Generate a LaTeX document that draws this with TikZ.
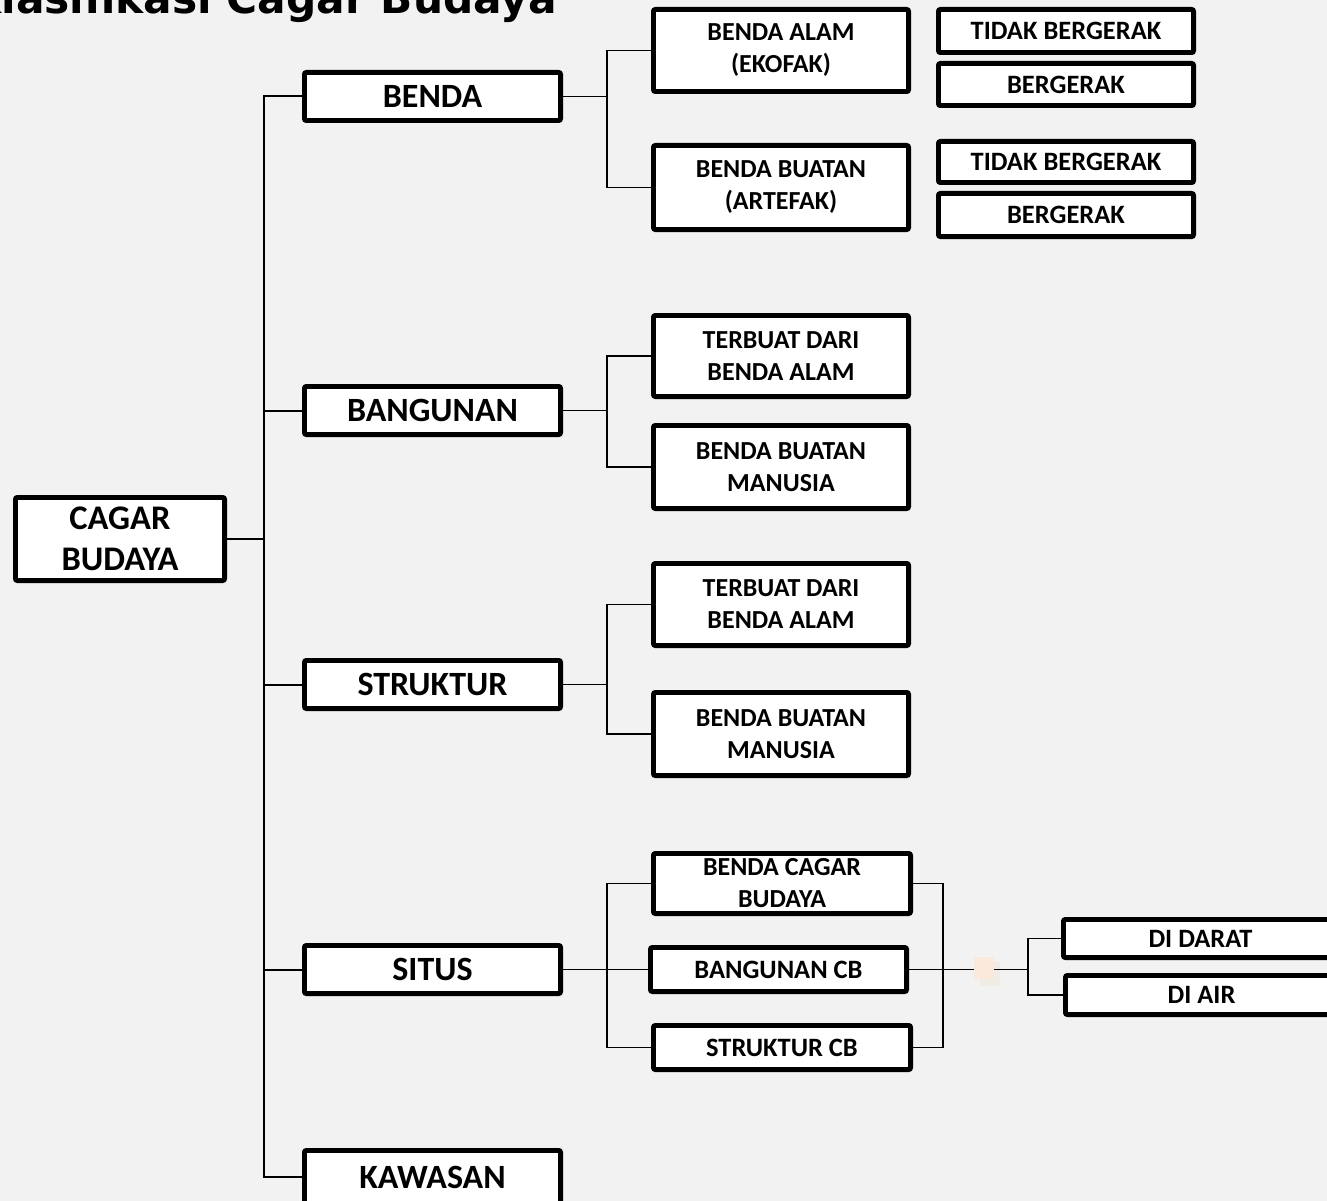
\documentclass[tikz,border=0pt]{standalone}
\usepackage{fontspec}
\setmainfont{Carlito}
\newfontfamily\titlefam{DejaVu Sans}
\definecolor{bgc}{HTML}{F2F2F2}
\definecolor{peach}{HTML}{FBEADC}
\definecolor{peachb}{HTML}{F0ECE4}
\begin{document}
\begin{tikzpicture}[x=1pt,y=-1pt,
 box/.style={draw, fill=white, line width=4.8pt, rounded corners=2pt, inner sep=0pt, outer sep=0pt, align=center},
 wh/.style 2 args={minimum width=#1-4.8, minimum height=#2-4.8},
 fa/.style={font=\bfseries\fontsize{34.5}{41}\selectfont},
 fb/.style={font=\bfseries\fontsize{34}{40}\selectfont},
 fc/.style={font=\bfseries\fontsize{26}{32}\selectfont},
 fd/.style={font=\bfseries\fontsize{26.5}{30}\selectfont},
 conn/.style={line width=1.6pt},
]
\fill[bgc] (0,0) rectangle (1327,1201);
\useasboundingbox (0,0) rectangle (1327,1201);
\node[anchor=base east, inner sep=0pt, font=\titlefam\bfseries\fontsize{42.3}{50}\selectfont] (title) at (557,13.5) {Klasifikasi Cagar Budaya};
% level 0
\node[box, fa, wh={214}{88}] (cagar) at (120,539) {CAGAR\\BUDAYA};
% level 1
\node[box, fb, wh={261}{53}] (benda) at (432.5,96.5) {BENDA};
\node[box, fb, wh={261}{53}] (bangunan) at (432.5,410.5) {BANGUNAN};
\node[box, fb, wh={261}{53}] (struktur) at (432.5,684.5) {STRUKTUR};
\node[box, fb, wh={261}{53}] (situs) at (432.5,969.5) {SITUS};
\node[box, fb, wh={261}{58}] (kawasan) at (432.5,1177) {KAWASAN};
% level 2
\node[box, fc, wh={260}{87}] (ekofak) at (781,50.5) {BENDA ALAM\\(EKOFAK)};
\node[box, fc, wh={260}{89}] (artefak) at (781,187.5) {BENDA BUATAN\\(ARTEFAK)};
\node[box, fd, wh={260}{48}] (tb1) at (1066,31) {TIDAK BERGERAK};
\node[box, fd, wh={260}{47}] (bg1) at (1066,84.5) {BERGERAK};
\node[box, fd, wh={260}{46}] (tb2) at (1066,162) {TIDAK BERGERAK};
\node[box, fd, wh={260}{48}] (bg2) at (1066,215) {BERGERAK};
\node[box, fc, wh={260}{86}] (bang1) at (781,356) {TERBUAT DARI\\BENDA ALAM};
\node[box, fc, wh={260}{88}] (bang2) at (781,467) {BENDA BUATAN\\MANUSIA};
\node[box, fc, wh={260}{87}] (str1) at (781,604.5) {TERBUAT DARI\\BENDA ALAM};
\node[box, fc, wh={260}{88}] (str2) at (781,734) {BENDA BUATAN\\MANUSIA};
\node[box, fc, wh={262}{65}] (bcb) at (782,883.5) {BENDA CAGAR\\BUDAYA};
\node[box, fd, wh={261}{49}] (bangcb) at (778.5,969.5) {BANGUNAN CB};
\node[box, fd, wh={262}{49}] (strcb) at (782,1047.5) {STRUKTUR CB};
\node[box, fd, wh={279}{43}] (darat) at (1200.5,938.5) {DI DARAT};
\node[box, fd, wh={277}{44}] (air) at (1201.5,995) {DI AIR};
% connectors
\coordinate (trunk) at (264,539);
\draw[line width=2.5pt] (cagar.east) -- (trunk);
\draw[line width=2pt] (trunk) |- (benda.west);
\draw[line width=2pt] (trunk) |- (bangunan.west);
\draw[line width=2pt] (trunk) |- (struktur.west);
\draw[line width=2pt] (trunk) |- (situs.west);
\draw[line width=2pt] (trunk) |- (kawasan.west);
\coordinate (h1) at (607,96.5);
\draw[conn] (benda.east) -- (h1);
\draw[conn] (h1) |- (ekofak.west);
\draw[conn] (h1) |- (artefak.west);
\coordinate (h2) at (607,410.5);
\draw[conn] (bangunan.east) -- (h2);
\draw[conn] (h2) |- (bang1.west);
\draw[conn] (h2) |- (bang2.west);
\coordinate (h3) at (607,684.5);
\draw[conn] (struktur.east) -- (h3);
\draw[conn] (h3) |- (str1.west);
\draw[conn] (h3) |- (str2.west);
\coordinate (h4) at (607,969.5);
\draw[conn] (situs.east) -- (h4) -- (bangcb.west);
\draw[conn] (h4) |- (bcb.west);
\draw[conn] (h4) |- (strcb.west);
\coordinate (rj) at (943,969.5);
\coordinate (h5) at (1028,969.5);
\fill[peachb] (980,962) rectangle (1000,986);
\draw[conn] (bcb.east) -| (rj);
\draw[conn] (strcb.east) -| (rj);
\draw[conn] (bangcb.east) -- (rj) -- (h5);
\draw[conn] (h5) |- (darat.west);
\draw[conn] (h5) |- (air.west);
\fill[peach] (974,957) rectangle (994,979);
\end{tikzpicture}
\end{document}
